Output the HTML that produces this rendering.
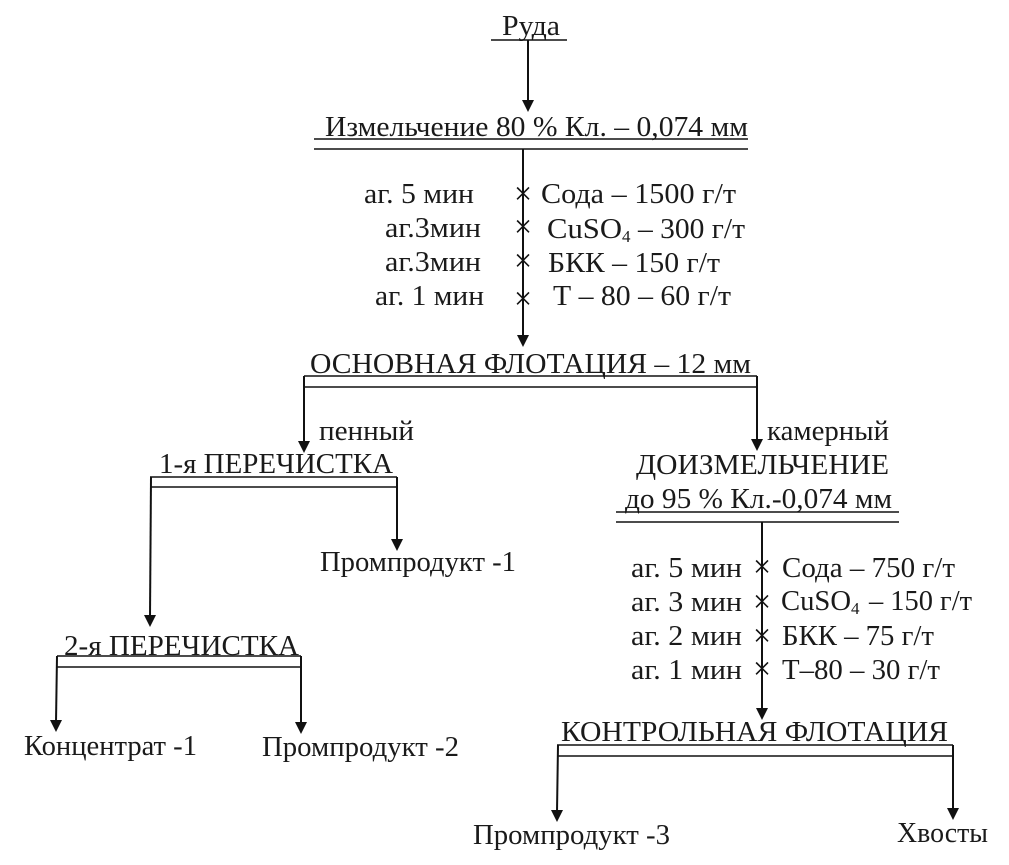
<!DOCTYPE html>
<html lang="ru">
<head>
<meta charset="utf-8">
<style>
html,body{margin:0;padding:0;background:#fff;}
svg{display:block;}
text{font-family:"Liberation Serif",serif;font-size:28px;fill:#1a1a1a;}
line{stroke:#111;stroke-width:2;}
line.h{stroke-width:1.6;}
polygon{fill:#111;}
text.x{font-size:32px;text-anchor:middle;fill:#111;}
text.s{font-size:17px;}
</style>
</head>
<body>
<svg width="1009" height="865" viewBox="0 0 1009 865" xmlns="http://www.w3.org/2000/svg">
<!-- Top -->
<text x="502" y="35" textLength="58" lengthAdjust="spacingAndGlyphs">Руда</text>
<line class="h" x1="491" y1="40" x2="567" y2="40"/>
<line x1="528" y1="40" x2="528" y2="102"/>
<polygon points="522,100 534,100 528,112"/>
<text x="325" y="136" textLength="423" lengthAdjust="spacingAndGlyphs">Измельчение 80 % Кл. – 0,074 мм</text>
<line class="h" x1="314" y1="139" x2="748" y2="139"/>
<line class="h" x1="314" y1="149" x2="748" y2="149"/>
<line x1="523" y1="149" x2="523" y2="337"/>
<polygon points="517,335 529,335 523,347"/>

<!-- Reagents 1 -->
<text x="364" y="203" textLength="110" lengthAdjust="spacingAndGlyphs">аг. 5 мин</text>
<text x="385" y="237" textLength="96" lengthAdjust="spacingAndGlyphs">аг.3мин</text>
<text x="385" y="271" textLength="96" lengthAdjust="spacingAndGlyphs">аг.3мин</text>
<text x="375" y="305" textLength="109" lengthAdjust="spacingAndGlyphs">аг. 1 мин</text>
<text x="523" y="204" class="x">×</text>
<text x="523" y="237" class="x">×</text>
<text x="523" y="271" class="x">×</text>
<text x="523" y="309" class="x">×</text>
<text x="541" y="203" textLength="195" lengthAdjust="spacingAndGlyphs">Сода – 1500 г/т</text>
<text x="547" y="238" textLength="75" lengthAdjust="spacingAndGlyphs">CuSO</text>
<text x="622" y="242" class="s">4</text>
<text x="638" y="238" textLength="107" lengthAdjust="spacingAndGlyphs">– 300 г/т</text>
<text x="548" y="272" textLength="172" lengthAdjust="spacingAndGlyphs">БКК – 150 г/т</text>
<text x="553" y="305" textLength="178" lengthAdjust="spacingAndGlyphs">Т – 80 – 60 г/т</text>

<!-- Main flotation -->
<text x="310" y="373" textLength="441" lengthAdjust="spacingAndGlyphs">ОСНОВНАЯ ФЛОТАЦИЯ – 12 мм</text>
<line class="h" x1="304" y1="376" x2="757" y2="376"/>
<line class="h" x1="304" y1="387" x2="757" y2="387"/>
<line x1="304" y1="376" x2="304" y2="442"/>
<polygon points="298,441 310,441 304,453"/>
<line x1="757" y1="376" x2="757" y2="440"/>
<polygon points="751,439 763,439 757,451"/>
<text x="319" y="440" textLength="95" lengthAdjust="spacingAndGlyphs">пенный</text>
<text x="767" y="440" textLength="122" lengthAdjust="spacingAndGlyphs">камерный</text>

<!-- Left branch -->
<text x="159" y="473" textLength="234" lengthAdjust="spacingAndGlyphs">1-я ПЕРЕЧИСТКА</text>
<line class="h" x1="150" y1="477" x2="397" y2="477"/>
<line class="h" x1="150" y1="487" x2="397" y2="487"/>
<line x1="151" y1="477" x2="150" y2="617"/>
<polygon points="144,615 156,615 150,627"/>
<line x1="397" y1="477" x2="397" y2="541"/>
<polygon points="391,539 403,539 397,551"/>
<text x="320" y="571" textLength="196" lengthAdjust="spacingAndGlyphs">Промпродукт -1</text>

<text x="64" y="655" textLength="235" lengthAdjust="spacingAndGlyphs">2-я ПЕРЕЧИСТКА</text>
<line class="h" x1="57" y1="656" x2="301" y2="656"/>
<line class="h" x1="57" y1="667" x2="301" y2="667"/>
<line x1="57" y1="656" x2="56" y2="722"/>
<polygon points="50,720 62,720 56,732"/>
<line x1="301" y1="656" x2="301" y2="724"/>
<polygon points="295,722 307,722 301,734"/>
<text x="24" y="755" textLength="173" lengthAdjust="spacingAndGlyphs">Концентрат -1</text>
<text x="262" y="756" textLength="197" lengthAdjust="spacingAndGlyphs">Промпродукт -2</text>

<!-- Right branch -->
<text x="636" y="474" textLength="253" lengthAdjust="spacingAndGlyphs">ДОИЗМЕЛЬЧЕНИЕ</text>
<text x="625" y="508" textLength="267" lengthAdjust="spacingAndGlyphs">до 95 % Кл.-0,074 мм</text>
<line class="h" x1="616" y1="512" x2="899" y2="512"/>
<line class="h" x1="616" y1="522" x2="899" y2="522"/>
<line x1="762" y1="522" x2="762" y2="710"/>
<polygon points="756,708 768,708 762,720"/>

<text x="631" y="577" textLength="111" lengthAdjust="spacingAndGlyphs">аг. 5 мин</text>
<text x="631" y="611" textLength="111" lengthAdjust="spacingAndGlyphs">аг. 3 мин</text>
<text x="631" y="645" textLength="111" lengthAdjust="spacingAndGlyphs">аг. 2 мин</text>
<text x="631" y="679" textLength="111" lengthAdjust="spacingAndGlyphs">аг. 1 мин</text>
<text x="762" y="577" class="x">×</text>
<text x="762" y="612" class="x">×</text>
<text x="762" y="646" class="x">×</text>
<text x="762" y="679" class="x">×</text>
<text x="782" y="577" textLength="173" lengthAdjust="spacingAndGlyphs">Сода – 750 г/т</text>
<text x="781" y="610" textLength="70" lengthAdjust="spacingAndGlyphs">CuSO</text>
<text x="851" y="614" class="s">4</text>
<text x="869" y="610" textLength="103" lengthAdjust="spacingAndGlyphs">– 150 г/т</text>
<text x="782" y="645" textLength="152" lengthAdjust="spacingAndGlyphs">БКК – 75 г/т</text>
<text x="782" y="679" textLength="158" lengthAdjust="spacingAndGlyphs">Т–80 – 30 г/т</text>

<text x="561" y="741" textLength="387" lengthAdjust="spacingAndGlyphs">КОНТРОЛЬНАЯ ФЛОТАЦИЯ</text>
<line class="h" x1="557" y1="745" x2="953" y2="745"/>
<line class="h" x1="557" y1="756" x2="953" y2="756"/>
<line x1="558" y1="745" x2="557" y2="812"/>
<polygon points="551,810 563,810 557,822"/>
<line x1="953" y1="745" x2="953" y2="810"/>
<polygon points="947,808 959,808 953,820"/>
<text x="473" y="844" textLength="197" lengthAdjust="spacingAndGlyphs">Промпродукт -3</text>
<text x="897" y="842" textLength="91" lengthAdjust="spacingAndGlyphs">Хвосты</text>
</svg>
</body>
</html>
